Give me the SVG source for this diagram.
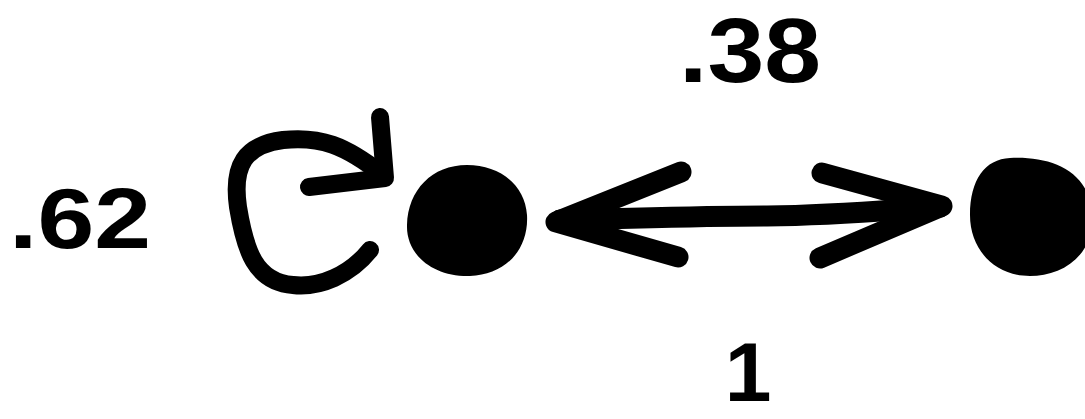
<svg xmlns="http://www.w3.org/2000/svg" width="1085" height="419" viewBox="0 0 1085 419">
<style>
.lbl{font-family:"Liberation Sans",Arial,sans-serif;font-weight:bold;fill:#000}
.ink{fill:none;stroke:#000;stroke-linecap:round;stroke-linejoin:round}
.node{fill:#000}
</style>
<rect width="1085" height="419" fill="#fff"/>
<g id="node-a">
<path class="node" d="M467,165 C500,165 525,185 527,215 C529,250 505,275 470,276 C433,277 406,255 407,225 C408,190 432,165 467,165 Z"/>
</g>
<g id="node-b">
<path class="node" d="M1010,158 C1050,156 1090,170 1092,215 C1094,258 1060,276 1030,276 C995,276 970,250 970,215 C970,180 985,159 1010,158 Z"/>
</g>
<g id="connectors">
<path class="ink" stroke-width="18" d="M370,250 C350,275 320,288 293,285 C255,282 245,250 238,207 C232,165 245,145 283,140 C320,136 345,145 383,175"/>
<path class="ink" stroke-width="18" d="M380,117 L385,178 L309,187"/>
<path class="ink" stroke-width="21" d="M560,220 C650,218 700,216 767,216 C840,215 890,210 940,207"/>
<path class="ink" stroke-width="21" d="M681,172 L556,222 L678,257"/>
<path class="ink" stroke-width="21" d="M822,173 L942,206 L820,258"/>
</g>
<g id="labels">
<text class="lbl" x="679" y="82" font-size="90" textLength="142" lengthAdjust="spacingAndGlyphs">.38</text>
<text class="lbl" x="9" y="248" font-size="86" textLength="142" lengthAdjust="spacingAndGlyphs">.62</text>
<text class="lbl" x="748" y="401" font-size="84" text-anchor="middle">1</text>
</g>
</svg>
